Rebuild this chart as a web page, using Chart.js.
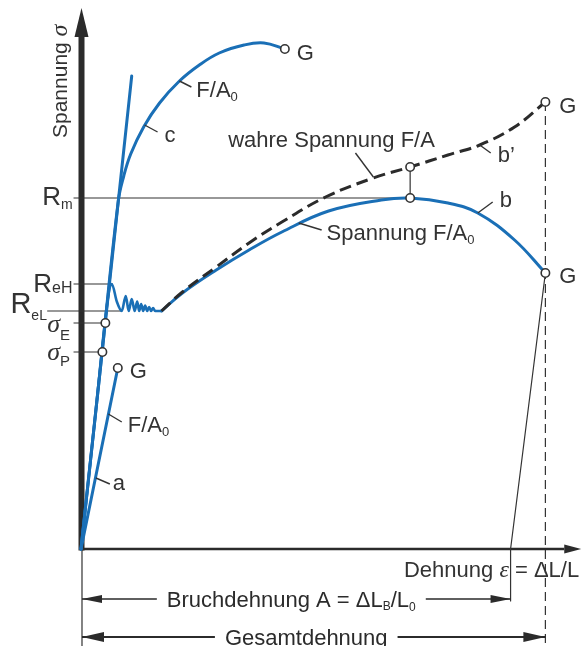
<!DOCTYPE html>
<html>
<head>
<meta charset="utf-8">
<script src="https://cdn.jsdelivr.net/npm/chart.js@4.4.1/dist/chart.umd.min.js"></script>
<style>
  html, body { margin: 0; padding: 0; background: #fff; }
  canvas { display: block; }
</style>
</head>
<body>
<canvas id="chart" width="584" height="646"></canvas>
<script>
// Werte (Dehnung / Spannung in Diagrammeinheiten)
const elasticEps = [0, 10.2];
const elasticSig = [0, 94.6];

const curveA_eps = [0, 7.4];
const curveA_sig = [0, 36.2];

const curveC_eps = [0, 3.8, 7.5, 8.6, 10.0, 12.6, 15.8, 19.8, 23.8, 27.8, 32.8, 36.8, 41.0];
const curveC_sig = [0, 35.2, 69.6, 74.6, 79.0, 84.4, 89.2, 93.6, 96.8, 99.2, 100.8, 101.2, 100.0];

// Stahl: elastisch + Streckgrenze mit Schwingungen
const curveB1_eps = [0, 2.8, 5.4, 6.2, 7.2, 8.2, 9.0, 9.6, 10.2, 10.8, 11.3, 11.7, 12.1, 12.5, 12.9, 13.3, 13.7, 14.1, 14.5, 14.9, 16.2];
const curveB1_sig = [0, 26, 50, 53, 49.5, 47.6, 50.6, 47.6, 50.0, 47.6, 49.5, 47.6, 49.0, 47.6, 48.7, 47.6, 48.4, 47.6, 48.2, 47.6, 47.6];

// Stahl: Verfestigung bis Bruch (Spannung F/A0)
const curveB2_eps = [16.2, 20.4, 27.2, 33.8, 40.4, 49.8, 60.4, 66.2, 73.8, 79.8, 87.2, 93.4];
const curveB2_sig = [47.6, 51.2, 55.8, 59.8, 63.4, 67.6, 69.8, 70.2, 69.2, 67.2, 61.8, 55.2];

// wahre Spannung F/A (gestrichelt)
const curveBt_eps = [16.2, 20.4, 27.2, 33.8, 40.4, 49.2, 58.8, 66.2, 73.8, 80.2, 87.2, 93.4];
const curveBt_sig = [47.6, 51.4, 56.4, 61.2, 65.4, 70.4, 74.2, 76.4, 78.8, 80.8, 84.4, 89.4];

// Kennwerte
const Rm = 70.2, ReH = 53, ReL = 47.6, sigmaE = 45.2, sigmaP = 39.4;
const epsRm = 66.2, epsBreak = 86.4, epsTotal = 93.4;
const sigBreakTrue = 89.4, sigBreak = 55.2, sigRmTrue = 76.4;

// Kreise
const markerEps = [7.4, 4.3, 4.9, 41.0, epsRm, epsRm, epsTotal, epsTotal];
const markerSig = [36.2, sigmaP, sigmaE, 100.0, Rm, sigRmTrue, sigBreakTrue, sigBreak];

const BLUE = '#1a6fb6';
const INK = '#333';
const SANS = '"Liberation Sans", Arial, Helvetica, sans-serif';
const SERIF = '"Liberation Serif", "Times New Roman", serif';

const toXY = (xs, ys) => xs.map((x, i) => ({ x: x, y: ys[i] }));

// Hilfslinien, mit Lücken getrennt
const tickStart = -1.5;
const gap = { x: null, y: null };
const guides = [
  { x: tickStart, y: Rm }, { x: epsRm, y: Rm }, gap,
  { x: tickStart, y: ReH }, { x: 6.4, y: ReH }, gap,
  { x: -6.8, y: ReL }, { x: 8.2, y: ReL }, gap,
  { x: tickStart, y: sigmaE }, { x: 4.9, y: sigmaE }, gap,
  { x: tickStart, y: sigmaP }, { x: 4.3, y: sigmaP }, gap,
  { x: epsRm, y: Rm }, { x: epsRm, y: sigRmTrue }, gap,
  { x: epsTotal, y: sigBreak }, { x: epsBreak, y: 0 }, { x: epsBreak, y: -10.4 }, gap,
  { x: 0.2, y: 0 }, { x: 0.2, y: -19.4 }
];
const dashedGuide = [{ x: epsTotal, y: sigBreakTrue }, { x: epsTotal, y: -19.4 }];

// Hinweisstriche
const callouts = [
  [12.8, 84.8, 15.4, 83.4],
  [19.8, 93.6, 22.2, 92.4],
  [55.2, 79.2, 58.8, 74.4],
  [80.2, 80.8, 82.4, 79.2],
  [79.8, 67.2, 82.8, 69.4],
  [43.8, 65.2, 48.4, 63.8],
  [5.5, 27.0, 8.2, 25.4],
  [3.0, 14.2, 5.8, 13.0]
];

const f = (size, fam, style) => (style ? style + ' ' : '') + size + 'px ' + (fam || SANS);

const labels = [
  { x: 43.4, y: 97.8, parts: [['G', f(22)]] },
  { x: 23.2, y: 90.4, parts: [['F/A', f(22)], ['0', f(13), 4]] },
  { x: 16.8, y: 81.4, parts: [['c', f(22)]] },
  { x: 29.6, y: 80.4, parts: [['wahre Spannung F/A', f(22)]] },
  { x: 83.8, y: 77.4, parts: [['b\u2019', f(22)]] },
  { x: 96.2, y: 87.2, parts: [['G', f(22)]] },
  { x: 84.2, y: 68.4, parts: [['b', f(22)]] },
  { x: 49.4, y: 61.8, parts: [['Spannung F/A', f(22)], ['0', f(13), 4]] },
  { x: 96.2, y: 53.2, parts: [['G', f(22)]] },
  { x: 9.8, y: 34.2, parts: [['G', f(22)]] },
  { x: 9.4, y: 23.4, parts: [['F/A', f(22)], ['0', f(13), 4]] },
  { x: 6.4, y: 11.8, parts: [['a', f(22)]] },
  { x: 100.2, y: -5.6, align: 'right', parts: [['Dehnung ', f(22)], ['\u03b5', f(24, SERIF, 'italic')], [' = \u0394L/L', f(22)]] },
  { x: -7.8, y: 68.8, parts: [['R', f(26)], ['m', f(14), 4]] },
  { x: -9.6, y: 51.4, parts: [['R', f(26)], ['eH', f(16), 1]] },
  { x: -14.2, y: 47.2, parts: [['R', f(29)], ['eL', f(14), 7]] },
  { x: -6.8, y: 43.4, parts: [['\u03c3', f(26, SERIF, 'italic')], ['E', f(15), 8]] },
  { x: -6.8, y: 37.8, parts: [['\u03c3', f(26, SERIF, 'italic')], ['P', f(15), 6]] }
];

function richWidth(ctx, parts) {
  let w = 0;
  parts.forEach(p => { ctx.font = p[1]; w += ctx.measureText(p[0]).width; });
  return w;
}
function drawRich(ctx, parts, x, y, align) {
  const w = richWidth(ctx, parts);
  let cx = align === 'right' ? x - w : align === 'center' ? x - w / 2 : x;
  ctx.textAlign = 'left';
  ctx.textBaseline = 'alphabetic';
  parts.forEach(p => {
    ctx.font = p[1];
    ctx.fillText(p[0], cx, y + (p[2] || 0));
    cx += ctx.measureText(p[0]).width;
  });
  return w;
}
function tri(ctx, tx, ty, bx1, by1, bx2, by2) {
  ctx.beginPath();
  ctx.moveTo(tx, ty); ctx.lineTo(bx1, by1); ctx.lineTo(bx2, by2);
  ctx.closePath(); ctx.fill();
}
function dimension(ctx, x1, x2, y, parts, cx, lw, hl, hw) {
  const w = richWidth(ctx, parts);
  ctx.lineWidth = lw;
  ctx.beginPath();
  ctx.moveTo(x1, y); ctx.lineTo(cx - w / 2 - 10, y);
  ctx.moveTo(cx + w / 2 + 10, y); ctx.lineTo(x2, y);
  ctx.stroke();
  tri(ctx, x1, y, x1 + hl, y - hw, x1 + hl, y + hw);
  tri(ctx, x2, y, x2 - hl, y - hw, x2 - hl, y + hw);
  drawRich(ctx, parts, cx, y + 8, 'center');
}

const decor = {
  id: 'decor',
  beforeDatasetsDraw(chart) {
    const ctx = chart.ctx;
    const X = v => chart.scales.x.getPixelForValue(v);
    const Y = v => chart.scales.y.getPixelForValue(v);
    ctx.save();
    ctx.fillStyle = '#2b2b2b';
    ctx.strokeStyle = '#2b2b2b';
    // y-Achse
    const ax = X(0) + 0.5;
    ctx.lineWidth = 6;
    ctx.beginPath(); ctx.moveTo(ax, Y(0) + 1.5); ctx.lineTo(ax, Y(102.6)); ctx.stroke();
    tri(ctx, ax, Y(108.2), ax - 7, Y(102.4), ax + 7, Y(102.4));
    // x-Achse
    ctx.lineWidth = 2.5;
    ctx.beginPath(); ctx.moveTo(ax, Y(0)); ctx.lineTo(X(97.2), Y(0)); ctx.stroke();
    tri(ctx, X(100.6), Y(0), X(97.2), Y(0) - 4.5, X(97.2), Y(0) + 4.5);
    ctx.restore();
  },
  afterDatasetsDraw(chart) {
    const ctx = chart.ctx;
    const X = v => chart.scales.x.getPixelForValue(v);
    const Y = v => chart.scales.y.getPixelForValue(v);
    ctx.save();
    ctx.strokeStyle = INK;
    ctx.fillStyle = INK;
    ctx.lineWidth = 1.4;
    callouts.forEach(c => {
      ctx.beginPath(); ctx.moveTo(X(c[0]), Y(c[1])); ctx.lineTo(X(c[2]), Y(c[3])); ctx.stroke();
    });
    labels.forEach(l => drawRich(ctx, l.parts, X(l.x), Y(l.y), l.align));

    // Achsentitel
    ctx.save();
    ctx.translate(X(-2.86), Y(82.2));
    ctx.rotate(-Math.PI / 2);
    drawRich(ctx, [['Spannung ', f(21)], ['\u03c3', f(24, SERIF, 'italic')]], 0, 0, 'left');
    ctx.restore();

    // Bemaßungspfeile
    ctx.strokeStyle = '#2b2b2b';
    ctx.fillStyle = '#2b2b2b';
    dimension(ctx, X(0.2), X(epsBreak), Y(-10),
      [['Bruchdehnung A = \u0394L', f(22)], ['B', f(12), 3], ['/L', f(22)], ['0', f(12), 4]],
      X(42.3), 1.4, 20, 4);
    dimension(ctx, X(0.2), X(epsTotal), Y(-17.6),
      [['Gesamtdehnung', f(22)]], X(45.3), 2, 22, 5);
    ctx.restore();
  }
};

const lineBase = { showLine: true, pointRadius: 0, fill: false, clip: false, borderCapStyle: 'round', borderJoinStyle: 'round' };

new Chart(document.getElementById('chart'), {
  type: 'scatter',
  data: {
    datasets: [
      { label: 'Kreise', data: toXY(markerEps, markerSig), showLine: false, clip: false,
        pointRadius: 4.2, pointBackgroundColor: '#fff', pointBorderColor: INK, pointBorderWidth: 1.6 },
      Object.assign({}, lineBase, { label: 'wahre Spannung F/A', data: toXY(curveBt_eps, curveBt_sig),
        borderColor: '#2b2b2b', borderWidth: 3, borderDash: [12, 6], borderCapStyle: 'butt', tension: 0.4 }),
      Object.assign({}, lineBase, { label: 'b Verfestigung', data: toXY(curveB2_eps, curveB2_sig),
        borderColor: BLUE, borderWidth: 3, tension: 0.4 }),
      Object.assign({}, lineBase, { label: 'b Streckgrenze', data: toXY(curveB1_eps, curveB1_sig),
        borderColor: BLUE, borderWidth: 2.6, cubicInterpolationMode: 'monotone' }),
      Object.assign({}, lineBase, { label: 'c', data: toXY(curveC_eps, curveC_sig),
        borderColor: BLUE, borderWidth: 3, tension: 0.4 }),
      Object.assign({}, lineBase, { label: 'a', data: toXY(curveA_eps, curveA_sig),
        borderColor: BLUE, borderWidth: 3 }),
      Object.assign({}, lineBase, { label: 'elastisch', data: toXY(elasticEps, elasticSig),
        borderColor: BLUE, borderWidth: 3 }),
      Object.assign({}, lineBase, { label: 'Hilfslinien', data: guides, spanGaps: false,
        borderColor: INK, borderWidth: 1.2, borderCapStyle: 'butt' }),
      Object.assign({}, lineBase, { label: 'Gesamt', data: dashedGuide,
        borderColor: INK, borderWidth: 1.2, borderDash: [9, 5], borderCapStyle: 'butt' })
    ]
  },
  options: {
    responsive: false,
    animation: false,
    devicePixelRatio: 1,
    layout: { padding: { left: 81, right: 3, top: 9, bottom: 97 } },
    scales: {
      x: { type: 'linear', min: 0, max: 100, display: false },
      y: { type: 'linear', min: 0, max: 108, display: false }
    },
    plugins: { legend: { display: false }, tooltip: { enabled: false } }
  },
  plugins: [decor]
});
</script>
</body>
</html>
